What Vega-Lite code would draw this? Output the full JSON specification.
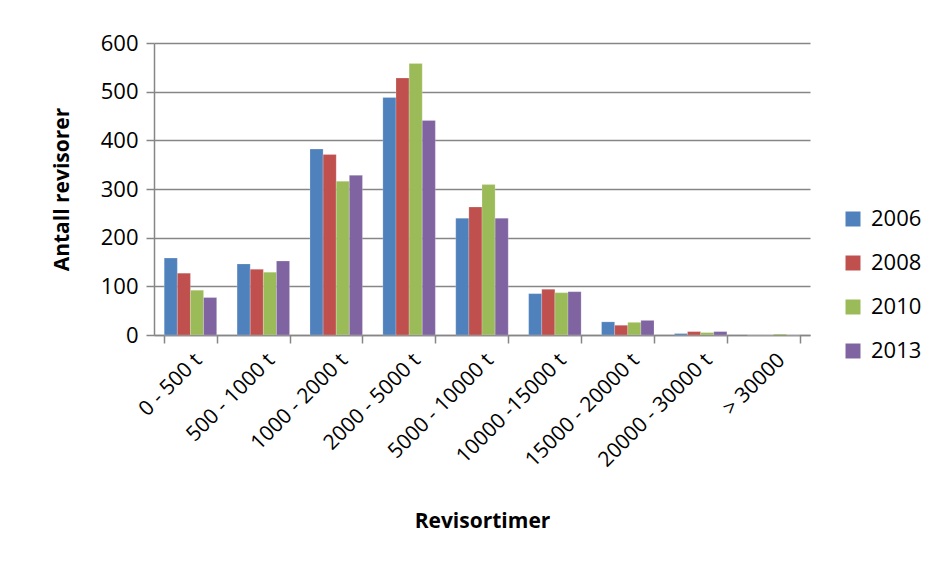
{
  "$schema": "https://vega.github.io/schema/vega-lite/v6.json",
  "width": 656,
  "height": 292,
  "padding": {"left": 51, "top": 32, "right": 10, "bottom": 10},
  "background": "white",
  "config": {
    "font": "Open Sans",
    "view": {"stroke": null}
  },
  "data": {
    "values": [
      {"kat": "0 - 500 t", "år": "2006", "antall": 158},
      {"kat": "0 - 500 t", "år": "2008", "antall": 127},
      {"kat": "0 - 500 t", "år": "2010", "antall": 92},
      {"kat": "0 - 500 t", "år": "2013", "antall": 77},
      {"kat": "500 - 1000 t", "år": "2006", "antall": 146},
      {"kat": "500 - 1000 t", "år": "2008", "antall": 135},
      {"kat": "500 - 1000 t", "år": "2010", "antall": 129},
      {"kat": "500 - 1000 t", "år": "2013", "antall": 152},
      {"kat": "1000 - 2000 t", "år": "2006", "antall": 382},
      {"kat": "1000 - 2000 t", "år": "2008", "antall": 371},
      {"kat": "1000 - 2000 t", "år": "2010", "antall": 316},
      {"kat": "1000 - 2000 t", "år": "2013", "antall": 328},
      {"kat": "2000 - 5000 t", "år": "2006", "antall": 488},
      {"kat": "2000 - 5000 t", "år": "2008", "antall": 528},
      {"kat": "2000 - 5000 t", "år": "2010", "antall": 558},
      {"kat": "2000 - 5000 t", "år": "2013", "antall": 441},
      {"kat": "5000 - 10000 t", "år": "2006", "antall": 240},
      {"kat": "5000 - 10000 t", "år": "2008", "antall": 263},
      {"kat": "5000 - 10000 t", "år": "2010", "antall": 309},
      {"kat": "5000 - 10000 t", "år": "2013", "antall": 240},
      {"kat": "10000 -15000 t", "år": "2006", "antall": 85},
      {"kat": "10000 -15000 t", "år": "2008", "antall": 94},
      {"kat": "10000 -15000 t", "år": "2010", "antall": 87},
      {"kat": "10000 -15000 t", "år": "2013", "antall": 89},
      {"kat": "15000 - 20000 t", "år": "2006", "antall": 27},
      {"kat": "15000 - 20000 t", "år": "2008", "antall": 20},
      {"kat": "15000 - 20000 t", "år": "2010", "antall": 26},
      {"kat": "15000 - 20000 t", "år": "2013", "antall": 30},
      {"kat": "20000 - 30000 t", "år": "2006", "antall": 3},
      {"kat": "20000 - 30000 t", "år": "2008", "antall": 7},
      {"kat": "20000 - 30000 t", "år": "2010", "antall": 5},
      {"kat": "20000 - 30000 t", "år": "2013", "antall": 7},
      {"kat": "> 30000", "år": "2006", "antall": 0},
      {"kat": "> 30000", "år": "2008", "antall": 0},
      {"kat": "> 30000", "år": "2010", "antall": 2},
      {"kat": "> 30000", "år": "2013", "antall": 0}
    ]
  },
  "mark": {"type": "bar", "stroke": "white", "strokeOpacity": 0.4, "strokeWidth": 0.5},
  "encoding": {
    "x": {
      "field": "kat",
      "type": "nominal",
      "sort": null,
      "scale": {"paddingInner": 0.28, "paddingOuter": 0.14},
      "axis": {
        "title": "Revisortimer",
        "titleFontSize": 21,
        "titleFontWeight": "bold",
        "titleColor": "black",
        "titlePadding": 40,
        "labelAngle": -45,
        "labelFontSize": 21,
        "labelColor": "black",
        "labelPadding": 6,
        "tickBand": "extent",
        "tickSize": 8,
        "tickColor": "#868686",
        "tickWidth": 1.5,
        "domainColor": "#868686",
        "domainWidth": 1.5
      }
    },
    "xOffset": {"field": "år", "type": "nominal"},
    "y": {
      "field": "antall",
      "type": "quantitative",
      "scale": {"domain": [0, 600]},
      "axis": {
        "title": "Antall revisorer",
        "titleFontSize": 21,
        "titleFontWeight": "bold",
        "titleColor": "black",
        "titlePadding": 28,
        "values": [0, 100, 200, 300, 400, 500, 600],
        "labelFontSize": 22,
        "labelColor": "black",
        "labelPadding": 8,
        "tickSize": 8,
        "tickColor": "#868686",
        "tickWidth": 1.5,
        "domainColor": "#868686",
        "domainWidth": 1.5,
        "gridColor": "#868686",
        "gridWidth": 1.5
      }
    },
    "color": {
      "field": "år",
      "type": "nominal",
      "scale": {"range": ["#4F81BD", "#C0504D", "#9BBB59", "#8064A2"]},
      "legend": {
        "title": null,
        "orient": "none",
        "legendX": 688,
        "legendY": 165,
        "symbolType": "square",
        "symbolSize": 225,
        "symbolStrokeWidth": 0,
        "labelFontSize": 22,
        "labelColor": "black",
        "rowPadding": 22,
        "labelOffset": 7
      }
    }
  }
}
